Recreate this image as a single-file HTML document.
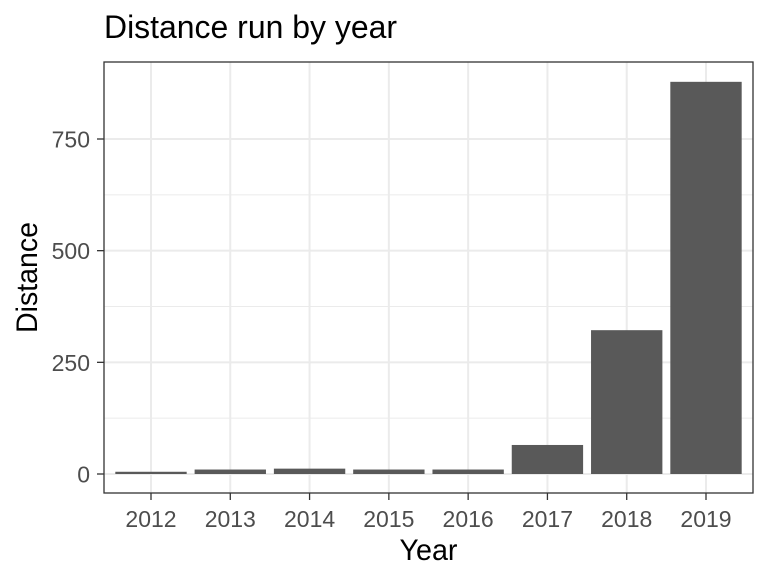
<!DOCTYPE html>
<html><head><meta charset="utf-8"><style>body{margin:0;background:#fff}svg{font-family:"Liberation Sans",sans-serif}</style></head>
<body>
<svg id="c" width="768" height="576" xmlns="http://www.w3.org/2000/svg">
<text x="104" y="38" font-size="32" textLength="293" lengthAdjust="spacingAndGlyphs" fill="#000">Distance run by year</text>
<g id="grid"></g><g id="bars"></g><g id="axes"></g>
<rect x="104" y="62" width="649" height="431" fill="none" stroke="#333" stroke-width="1.3"/>
<text x="428.5" y="560" font-size="29.5" textLength="58" lengthAdjust="spacingAndGlyphs" text-anchor="middle">Year</text>
<text transform="translate(37,277.5) rotate(-90)" font-size="29.5" textLength="111" lengthAdjust="spacingAndGlyphs" text-anchor="middle">Distance</text>
</svg>
<script>
const categories=["2012","2013","2014","2015","2016","2017","2018","2019"];
const distances=[5,10,12,10,10,65,322,878];
const yTicks=[0,250,500,750];
const ns="http://www.w3.org/2000/svg";
const L=104,R=753,T=62,B=493;
const y=v=>474-v*(474-139)/750;
const step=(706-151)/(categories.length-1);
const x=i=>151+step*i;
function mk(t,a,p){const e=document.createElementNS(ns,t);for(const k in a)e.setAttribute(k,a[k]);p.appendChild(e);return e;}
const g=document.getElementById('grid'),bg=document.getElementById('bars'),ax=document.getElementById('axes');
for(let k=0;k<yTicks.length-1;k++){const m=(yTicks[k]+yTicks[k+1])/2;const l=mk('line',{x1:L,x2:R,y1:y(m),y2:y(m),stroke:'#ebebeb','stroke-width':1},g);

}
yTicks.forEach(v=>{const l=mk('line',{x1:L,x2:R,y1:y(v),y2:y(v),stroke:'#ebebeb','stroke-width':2},g);


const t=mk('line',{x1:L-7,x2:L,y1:y(v),y2:y(v),stroke:'#333','stroke-width':1.3},ax);


const tx=mk('text',{x:L-14,y:y(v)+8.5,'font-size':23,'text-anchor':'end',fill:'#4d4d4d'},ax);tx.textContent=String(v);

});
categories.forEach((c,i)=>{const l=mk('line',{x1:x(i),x2:x(i),y1:T,y2:B,stroke:'#ebebeb','stroke-width':2},g);


const bw=step*0.9;const r=mk('rect',{x:x(i)-bw/2,y:y(distances[i]),width:bw,height:y(0)-y(distances[i]),fill:'#595959'},bg);


const t=mk('line',{x1:x(i),x2:x(i),y1:B,y2:B+7,stroke:'#333','stroke-width':1.3},ax);


const tx=mk('text',{x:x(i),y:B+34,'font-size':23,'text-anchor':'middle',fill:'#4d4d4d'},ax);tx.textContent=c;

});
</script>
</body></html>
